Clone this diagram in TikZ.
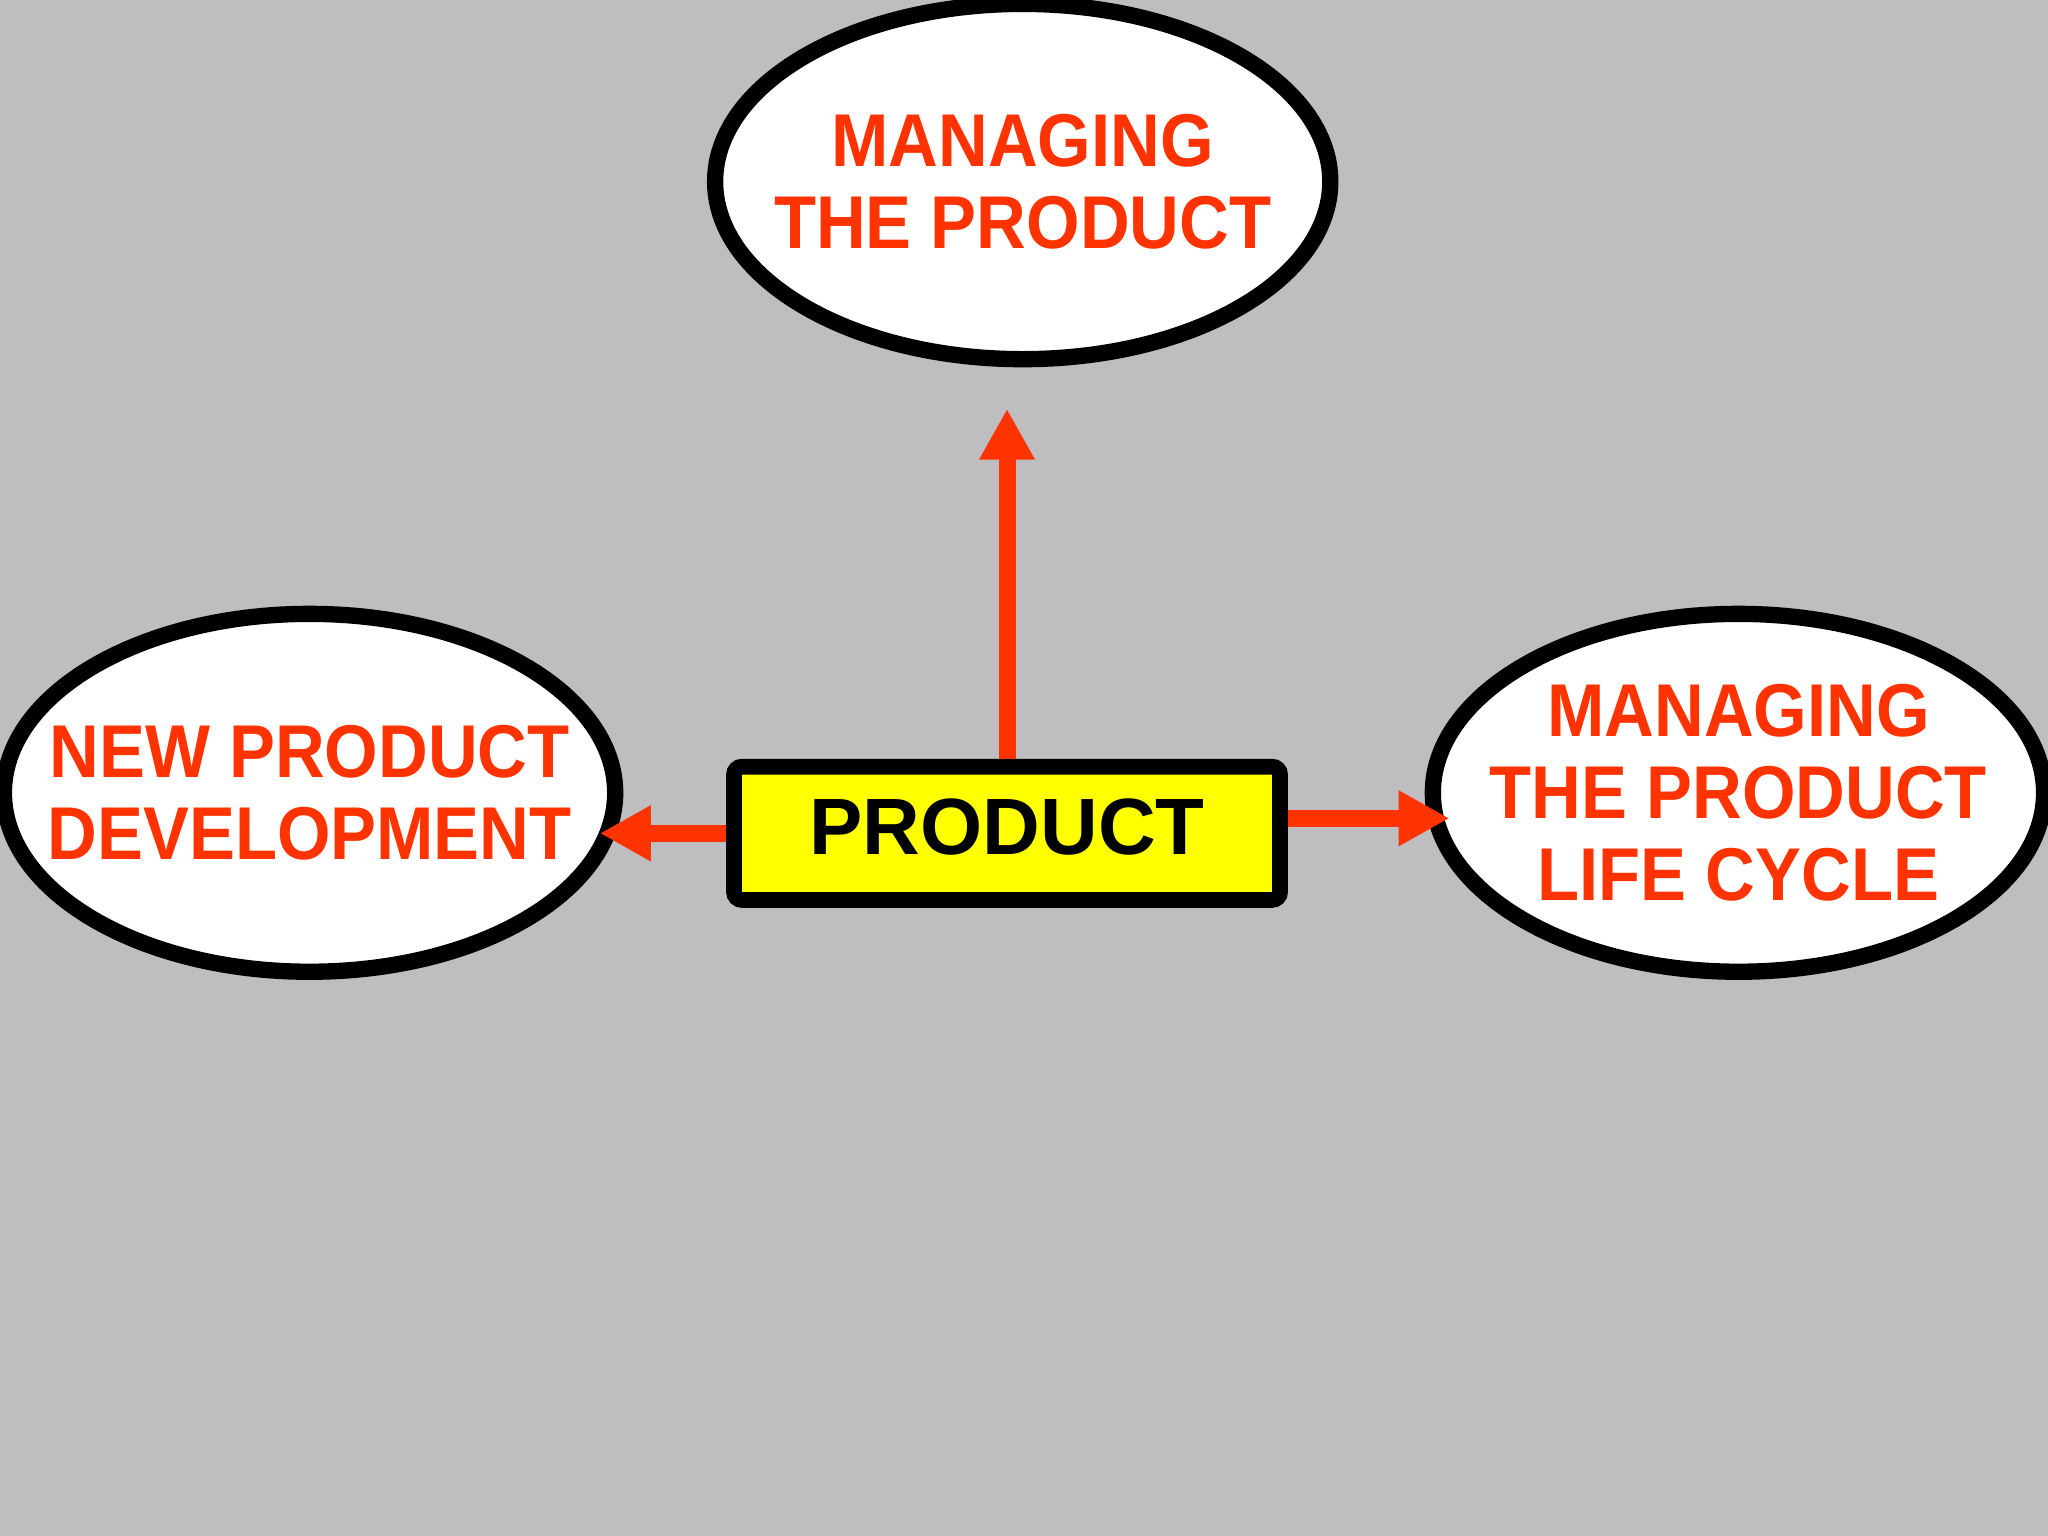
\documentclass[tikz,border=0pt]{standalone}
\usepackage{fontspec}
\setmainfont{Liberation Sans}
\newfontfamily\ovalfont{Liberation Sans}[FakeStretch=0.92]
\usetikzlibrary{shapes.geometric,arrows.meta}
\definecolor{slidegray}{RGB}{190,189,191}
\definecolor{arrowred}{RGB}{255,51,0}
\definecolor{boxyellow}{RGB}{255,255,0}

\begin{document}
\begin{tikzpicture}
\tikzstyle{oval} = [ellipse, draw=black, fill=white, line width=1.25mm, minimum width=4.68cm, minimum height=2.74cm, inner sep=0pt]
\tikzstyle{ovaltext} = [text=arrowred, align=center, font=\ovalfont\bfseries\fontsize{16.3}{17.9}\selectfont]
\tikzstyle{arr} = [draw=arrowred, line width=1.3mm, -{Triangle[length=3.9mm, width=4mm]}]
\fill[slidegray] (0,0) rectangle (15.68,-11.76);
\useasboundingbox (0,0) rectangle (15.68,-11.76);
\node[oval, minimum width=4.71cm, minimum height=2.72cm, label={[ovaltext]center:MANAGING\\THE PRODUCT}] (mp) at (7.83,-1.39) {};
\node[oval, label={[ovaltext]center:NEW PRODUCT\\DEVELOPMENT}] (npd) at (2.37,-6.07) {};
\node[oval, label={[ovaltext]center:MANAGING\\THE PRODUCT\\LIFE CYCLE}] (mplc) at (13.31,-6.07) {};
\node[draw=black, fill=boxyellow, line width=1.2mm, rounded corners=0.6mm, minimum width=4.18cm, minimum height=1.02cm, text depth=1mm, font=\bfseries\fontsize{17.4}{20}\selectfont] (prod) at (7.71,-6.38) {PRODUCT};
\coordinate (uptip) at (7.71,-3.13);
\draw[arr] (prod.north) -- (uptip);
\draw[arr, shorten >=-1.8mm] (prod.west) -- (prod.west -| npd.east);
\draw[arr, shorten >=-1.9mm] ([yshift=1.15mm]prod.east) -- ([yshift=1.15mm]prod.east -| mplc.west);
\end{tikzpicture}
\end{document}
